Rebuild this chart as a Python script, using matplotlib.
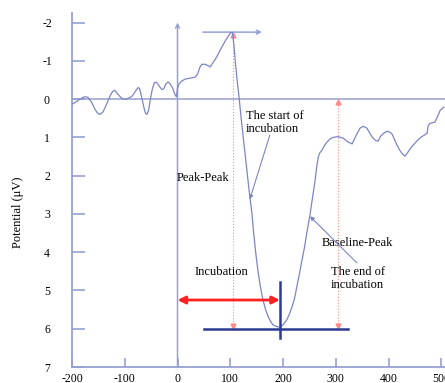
import matplotlib
matplotlib.use("Agg")
import matplotlib.pyplot as plt

plt.rcParams['font.family'] = ['Liberation Serif', 'DejaVu Serif']
plt.rcParams['axes.unicode_minus'] = False

# potential trace
time_ms = [-200, -193, -185, -177, -170, -163, -157, -152, -147, -141, -135, -128,
           -123, -119, -114, -108, -103, -98, -92, -86, -80, -75, -72, -68, -64,
           -61, -58, -55, -52, -48, -44, -40, -35, -30, -26, -22, -18, -14, -9,
           -5, -2, 0, 3, 8, 14, 24, 33, 38, 42, 46, 52, 57, 62, 66, 72, 78, 84,
           90, 96, 100, 104, 107, 110, 113, 117, 121, 125, 129, 133, 137, 141,
           144, 147, 150, 153, 157, 162, 167, 172, 177, 181, 187, 194, 200, 207,
           212, 217, 222, 226, 231, 236, 241, 245, 251, 254, 257, 261, 264, 267,
           270, 274, 279, 285, 290, 295, 304, 314, 323, 331, 336, 341, 346, 352,
           359, 364, 369, 375, 380, 385, 390, 397, 402, 407, 412, 416, 421, 426,
           431, 437, 443, 450, 456, 462, 468, 473, 475, 478, 482, 488, 494, 498, 505]
potential = [0.13, 0.08, 0.0, -0.06, -0.05, 0.08, 0.25, 0.36, 0.40, 0.33, 0.15, -0.08,
             -0.20, -0.23, -0.15, -0.05, 0.0, 0.0, -0.03, -0.08, -0.20, -0.30, -0.28, -0.05, 0.20,
             0.36, 0.40, 0.30, 0.05, -0.25, -0.43, -0.44, -0.35, -0.25, -0.27, -0.40, -0.45, -0.40, -0.28,
             -0.12, -0.06, -0.28, -0.40, -0.47, -0.52, -0.55, -0.57, -0.65, -0.82, -0.91, -0.91, -0.88, -0.84, -0.93, -1.05, -1.20, -1.36,
             -1.51, -1.64, -1.72, -1.75, -1.40, -0.90, -0.50, 0.0, 0.55, 1.05, 1.55, 2.05, 2.55, 2.98,
             3.45, 3.86, 4.22, 4.54, 4.90, 5.25, 5.50, 5.69, 5.82, 5.90, 5.94, 5.96, 5.90, 5.77,
             5.62, 5.43, 5.20, 4.91, 4.57, 4.20, 3.85, 3.50, 3.03, 2.75, 2.46, 2.10, 1.75, 1.50,
             1.40, 1.33, 1.20, 1.10, 1.03, 1.00, 0.98, 1.02, 1.12, 1.17, 1.02, 0.88, 0.76, 0.71,
             0.76, 0.88, 0.99, 1.08, 1.10, 0.97, 0.90, 0.84, 0.86, 0.92, 1.08, 1.20, 1.33, 1.43,
             1.49, 1.38, 1.26, 1.15, 1.06, 0.99, 0.94, 0.89, 0.70, 0.64, 0.62, 0.60, 0.42, 0.29, 0.21]

x_ticks = [-200, -100, 0, 100, 200, 300, 400, 500]
y_ticks = [-2, -1, 0, 1, 2, 3, 4, 5, 6, 7]

peak_x, peak_y = 105, -1.75
trough_x, trough_y = 194, 6
end_x = 304
incub_y = 5.25

axis_col = '#97a0d2'
line_col = '#7c85c6'
navy = '#2b3a93'
red = '#ff2020'
pink = '#ff8a8a'

fig = plt.figure(figsize=(4.45, 3.83), dpi=100)
ax = fig.add_axes([72 / 445, 16 / 383, 373 / 445, 354 / 383])
ax.set_xlim(-200, 507)
ax.set_ylim(7, -2.25)

for s in ['top', 'right']:
    ax.spines[s].set_visible(False)
for s in ['left', 'bottom']:
    ax.spines[s].set_color(axis_col)
    ax.spines[s].set_linewidth(1.3)

ax.set_xticks(x_ticks)
ax.set_yticks(y_ticks)
ax.set_yticklabels([str(v) for v in y_ticks], ha='center')
ax.tick_params(axis='x', direction='in', length=6.5, width=1.2, color=axis_col,
               labelsize=8.5, pad=4)
ax.tick_params(axis='y', direction='in', length=9.4, width=1.2, color=axis_col,
               labelsize=8.5, pad=18)

fig.text(18 / 445, 1 - 212 / 383, 'Potential (\u03bcV)', rotation=90,
         ha='center', va='center', fontsize=9)

# zero line and time-zero axis
ax.axhline(0, color=axis_col, lw=1.1)
ax.annotate('', xy=(0, -2.0), xytext=(0, 7), annotation_clip=False,
            arrowprops=dict(arrowstyle='->', color=axis_col, lw=1.1,
                            shrinkA=0, shrinkB=0, mutation_scale=7))
# peak level line
ax.annotate('', xy=(160, peak_y), xytext=(48, peak_y),
            arrowprops=dict(arrowstyle='->', color=axis_col, lw=1.1,
                            shrinkA=0, shrinkB=0, mutation_scale=7))

# trace
ax.plot(time_ms, potential, color=line_col, lw=0.9, zorder=3)

# red dotted measurement lines
for xv, ytop in [(peak_x, peak_y), (end_x, 0)]:
    ax.plot([xv, xv], [ytop, trough_y], color=pink, lw=0.8, ls=':')
    ax.plot([xv], [ytop + 0.08], marker='^', color=pink, ms=3.5)
    ax.plot([xv], [trough_y - 0.08], marker='v', color=pink, ms=3.5)

# incubation arrow
ax.annotate('', xy=(0, incub_y), xytext=(trough_x, incub_y),
            arrowprops=dict(arrowstyle='<|-|>', color=red, lw=2,
                            shrinkA=0, shrinkB=0, mutation_scale=11))

# navy baseline / trough markers
ax.plot([50, 323], [trough_y, trough_y], color=navy, lw=1.8, zorder=4)
ax.plot([trough_x, trough_x], [4.78, 6.24], color=navy, lw=1.8, zorder=4)

# labels
ax.text(-2, 2.06, 'Peak-Peak', fontsize=9, ha='left', va='center')
ax.text(33, 4.52, 'Incubation', fontsize=9, ha='left', va='center')
ax.text(130, 0.61, 'The start of\nincubation', fontsize=9, ha='left', va='center',
        linespacing=1.15)
ax.text(274, 3.75, 'Baseline-Peak', fontsize=9, ha='left', va='center')
ax.text(291, 4.68, 'The end of\nincubation', fontsize=9, ha='left', va='center',
        linespacing=1.15)

ax.annotate('', xy=(137, 2.62), xytext=(175, 0.94),
            arrowprops=dict(arrowstyle='-|>', color=line_col, lw=0.8,
                            shrinkA=0, shrinkB=0, mutation_scale=6))
ax.annotate('', xy=(251, 3.06), xytext=(340, 4.28),
            arrowprops=dict(arrowstyle='-|>', color=line_col, lw=0.8,
                            shrinkA=0, shrinkB=0, mutation_scale=6))

fig.savefig('out.png', dpi=100)
